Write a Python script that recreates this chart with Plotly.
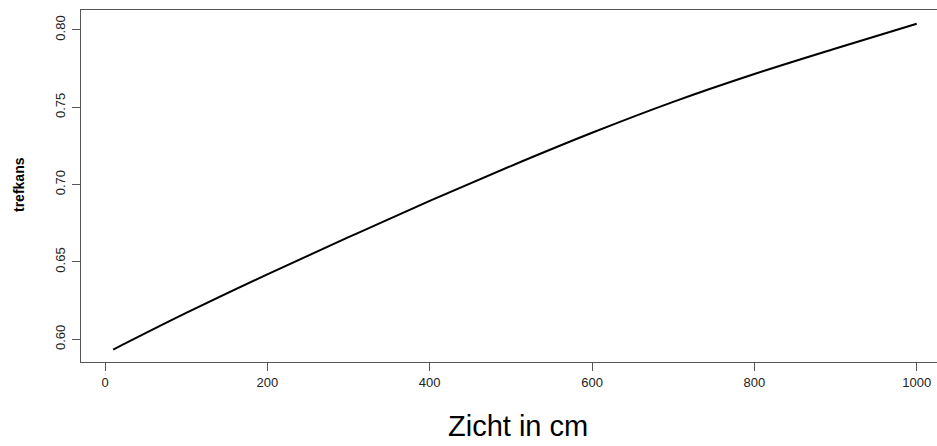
import plotly.graph_objects as go

# data
zicht_cm = [10, 100, 200, 300, 400, 500, 600, 700, 800, 900, 1000]
trefkans = [0.5933, 0.617, 0.642, 0.666, 0.6895, 0.712, 0.7335, 0.7535, 0.7715, 0.788, 0.804]

x_ticks = [0, 200, 400, 600, 800, 1000]
y_ticks = [0.60, 0.65, 0.70, 0.75, 0.80]

W, H = 937, 446
L, R, T, B = 81, 0, 10, 84
pw, ph = W - L - R, H - T - B

fig = go.Figure()
fig.add_trace(go.Scatter(
    x=zicht_cm, y=trefkans, mode="lines",
    line=dict(color="black", width=2, shape="spline", smoothing=1.0),
    hoverinfo="skip", showlegend=False,
))

axis_font = dict(family="Liberation Sans, Arial, sans-serif", size=13, color="#222")

fig.update_layout(
    width=W, height=H,
    margin=dict(l=L, r=R, t=T, b=B, pad=0),
    paper_bgcolor="white", plot_bgcolor="white",
    xaxis=dict(
        range=[-29.6, 1025.0], tickvals=x_ticks, ticktext=[str(v) for v in x_ticks],
        showgrid=False, zeroline=False, showline=True, mirror=True,
        linecolor="#555", linewidth=1, ticks="outside", ticklen=8,
        tickcolor="#555", tickwidth=1, tickfont=axis_font,
    ),
    yaxis=dict(
        range=[0.5853, 0.8129], tickvals=y_ticks, ticktext=[f"{v:.2f}" for v in y_ticks],
        showgrid=False, zeroline=False, showline=True, mirror=False,
        linecolor="#555", linewidth=1, ticks="outside", ticklen=8,
        tickcolor="#555", tickwidth=1, tickfont=axis_font, tickangle=-90,
        ticklabelstandoff=2,
    ),
    annotations=[
        dict(text="Zicht in cm", xref="paper", yref="paper",
             x=(518 - L) / pw, y=(H - B - 426) / ph, xanchor="center", yanchor="middle",
             showarrow=False,
             font=dict(family="Liberation Sans, Arial, sans-serif", size=29, color="black")),
        dict(text="<b>trefkans</b>", xref="paper", yref="paper",
             x=(19 - L) / pw, y=(H - B - 185) / ph, xanchor="center", yanchor="middle",
             textangle=-90, showarrow=False,
             font=dict(family="Liberation Sans, Arial, sans-serif", size=14, color="black")),
    ],
)

fig.write_html("out.html")
